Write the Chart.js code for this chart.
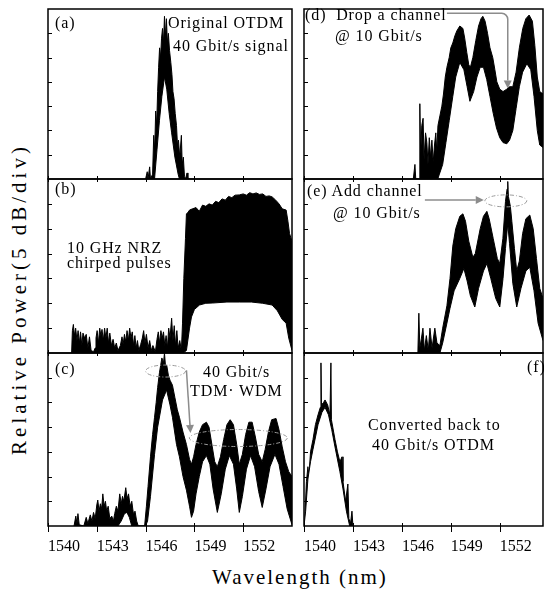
<!DOCTYPE html>
<html>
<head>
<meta charset="utf-8">
<script src="https://cdn.jsdelivr.net/npm/chart.js"></script>
<style>
  body { margin: 0; background: #fff; }
  #fig { position: relative; width: 544px; height: 592px; overflow: hidden; font-family: "Liberation Serif", "Times New Roman", serif; color: #000; }
  #fig canvas { position: absolute; }
  .t { position: absolute; font-size: 16px; line-height: 1; letter-spacing: 0.9px; white-space: pre; }
  .ax { position: absolute; font-size: 21px; line-height: 1; letter-spacing: 2px; white-space: pre; }
  #ytitle { left: -146px; top: 287px; width: 330px; height: 24px; line-height: 24px; text-align: center; letter-spacing: 4px; transform: rotate(-90deg); }
</style>
</head>
<body>
<div id="fig">
  <canvas id="ca" width="252" height="178" style="left:44px;top:5px"></canvas>
  <canvas id="cb" width="252" height="182" style="left:44px;top:175px"></canvas>
  <canvas id="cc" width="252" height="211" style="left:44px;top:349px"></canvas>
  <canvas id="cd" width="244" height="178" style="left:300px;top:5px"></canvas>
  <canvas id="ce" width="244" height="182" style="left:300px;top:175px"></canvas>
  <canvas id="cf" width="244" height="211" style="left:300px;top:349px"></canvas>

  <div class="t" style="left:55px;top:15px">(a)</div>
  <div class="t" style="left:168px;top:15px">Original OTDM</div>
  <div class="t" style="left:173px;top:38px">40 Gbit/s signal</div>
  <div class="t" style="left:55px;top:181px">(b)</div>
  <div class="t" style="left:67px;top:240px">10 GHz NRZ</div>
  <div class="t" style="left:67px;top:255px">chirped pulses</div>
  <div class="t" style="left:55px;top:361px">(c)</div>
  <div class="t" style="left:203px;top:364px">40 Gbit/s</div>
  <div class="t" style="left:190px;top:383px">TDM· WDM</div>
  <div class="t" style="left:305px;top:7px">(d)  Drop a channel</div>
  <div class="t" style="left:335px;top:28px">@ 10 Gbit/s</div>
  <div class="t" style="left:307px;top:183px">(e) Add channel</div>
  <div class="t" style="left:333px;top:205px">@ 10 Gbit/s</div>
  <div class="t" style="left:527px;top:359px">(f)</div>
  <div class="t" style="left:368px;top:417px">Converted back to</div>
  <div class="t" style="left:372px;top:437px">40 Gbit/s OTDM</div>

  <div class="ax" style="left:212px;top:567px">Wavelength (nm)</div>
  <div class="ax" id="ytitle">Relative Power(5 dB/div)</div>
</div>

<script>
// tick positions (nm and 5 dB divisions)
const xTicks = [1540, 1543, 1546, 1549, 1552];
const yTicks = [1, 2, 3, 4, 5, 6];

// each spectrum: upper and lower envelope of the comb, [wavelength nm, divisions]
const aTop = [[1546.0,0],[1546.1,0.3],[1546.15,0],[1546.25,0.5],[1546.3,0],[1546.43,0.2],[1546.5,1.8],[1546.56,1.2],[1546.62,2.8],[1546.68,2.2],[1546.74,3.6],[1546.8,4.6],[1546.86,5.4],[1546.92,5.0],[1546.98,5.8],[1547.04,6.2],[1547.1,5.6],[1547.16,6.7],[1547.22,5.9],[1547.28,6.6],[1547.34,5.6],[1547.4,6.0],[1547.47,5.3],[1547.55,4.8],[1547.62,4.3],[1547.68,3.6],[1547.75,3.3],[1547.82,2.7],[1547.9,2.2],[1547.96,1.4],[1548.02,1.6],[1548.1,0.9],[1548.2,1.8],[1548.25,0.6],[1548.32,0.9],[1548.39,0.1],[1548.45,0],[1548.55,0.25],[1548.6,0],[1548.7,0]];
const aBot = [[1546.0,0],[1546.55,0],[1546.7,1.2],[1546.85,2.4],[1547.0,3.4],[1547.16,4.2],[1547.3,3.7],[1547.45,2.7],[1547.6,1.9],[1547.8,0.9],[1548.0,0.2],[1548.08,0],[1548.7,0]];

const bTop = [[1541.45,0],[1541.5,0.9],[1541.56,1.15],[1541.62,0.7],[1541.7,1.0],[1541.78,0.5],[1541.85,0.9],[1541.93,0.4],[1542.0,0.85],[1542.08,0.3],[1542.15,0.8],[1542.25,0.6],[1542.35,0.75],[1542.45,0.2],[1542.55,0.65],[1542.65,0.1],[1542.8,0.05],[1542.9,0.2],[1542.95,0.6],[1543.02,0.9],[1543.1,0.4],[1543.18,1.0],[1543.25,0.7],[1543.32,0.95],[1543.4,0.5],[1543.48,1.0],[1543.56,0.6],[1543.64,1.0],[1543.72,0.4],[1543.8,0.8],[1543.9,0.3],[1544.0,0.55],[1544.1,0.2],[1544.2,0.4],[1544.3,0.1],[1544.45,0.3],[1544.55,0.65],[1544.62,0.35],[1544.7,0.75],[1544.78,0.45],[1544.86,0.9],[1544.94,0.5],[1545.02,1.0],[1545.1,0.6],[1545.18,0.85],[1545.26,0.3],[1545.34,0.7],[1545.42,0.2],[1545.5,0.5],[1545.58,0.1],[1545.7,0.35],[1545.8,0.6],[1545.88,0.9],[1545.96,0.4],[1546.05,0.75],[1546.15,0.2],[1546.25,0.5],[1546.35,0.1],[1546.45,0.3],[1546.6,0.05],[1546.7,0.55],[1546.78,0.85],[1546.86,0.4],[1546.94,0.9],[1547.02,0.6],[1547.1,0.85],[1547.18,0.3],[1547.26,0.7],[1547.34,0.2],[1547.42,1.0],[1547.5,0.6],[1547.6,1.4],[1547.68,0.5],[1547.76,1.1],[1547.84,0.3],[1547.92,0.9],[1548.0,0.2],[1548.1,0.5],[1548.2,0.1],[1548.27,1.2],[1548.35,3.0],[1548.45,4.6],[1548.51,5.6],[1548.6,5.65],[1548.7,5.75],[1548.88,5.8],[1549.1,5.85],[1549.3,5.7],[1549.5,5.95],[1549.7,5.9],[1549.9,6.0],[1550.1,5.95],[1550.3,6.1],[1550.5,6.05],[1550.7,6.2],[1550.9,6.15],[1551.1,6.3],[1551.3,6.25],[1551.5,6.35],[1551.76,6.36],[1552.0,6.4],[1552.2,6.35],[1552.4,6.45],[1552.6,6.4],[1552.8,6.44],[1553.0,6.38],[1553.2,6.4],[1553.4,6.3],[1553.6,6.32],[1553.78,6.28],[1554.0,6.15],[1554.2,6.0],[1554.4,5.8],[1554.64,5.75],[1554.75,5.3],[1554.85,4.8],[1555.0,4.5]];
const bBot = [[1548.3,0],[1548.51,0.1],[1548.7,1.0],[1548.82,1.45],[1549.0,1.75],[1549.31,1.93],[1549.7,2.0],[1550.1,2.01],[1551.0,2.05],[1551.76,2.05],[1552.5,2.05],[1553.2,2.0],[1553.78,1.93],[1554.1,1.7],[1554.4,1.35],[1554.64,1.2],[1554.8,0.6],[1555.0,0.1]];

const cTop = [[1541.6,0],[1541.71,0.4],[1541.78,0.1],[1541.84,0.5],[1541.92,0.05],[1542.2,0],[1542.35,0.35],[1542.45,0.1],[1542.6,0.45],[1542.7,0.2],[1542.8,0.55],[1542.9,0.3],[1543.0,0.85],[1543.06,1.05],[1543.14,0.6],[1543.22,0.9],[1543.3,0.7],[1543.37,1.3],[1543.45,0.8],[1543.53,1.0],[1543.61,0.6],[1543.7,0.8],[1543.8,0.3],[1543.92,0.4],[1544.02,0.2],[1544.1,0.5],[1544.2,0.8],[1544.3,0.6],[1544.41,1.3],[1544.5,0.9],[1544.58,1.2],[1544.66,1.0],[1544.78,1.55],[1544.86,1.1],[1544.95,1.3],[1545.05,0.8],[1545.15,1.0],[1545.25,0.5],[1545.35,0.6],[1545.45,0.2],[1545.55,0],[1545.94,0],[1546.05,0.8],[1546.15,1.6],[1546.3,2.8],[1546.43,3.7],[1546.55,4.4],[1546.65,5.0],[1546.74,5.6],[1546.85,6.2],[1547.0,6.8],[1547.1,6.6],[1547.16,7.0],[1547.22,6.5],[1547.3,6.5],[1547.4,6.1],[1547.5,5.9],[1547.65,5.7],[1547.8,5.2],[1547.95,4.7],[1548.08,4.4],[1548.3,3.8],[1548.51,3.3],[1548.7,2.7],[1548.82,2.5],[1548.95,2.8],[1549.1,3.3],[1549.3,3.8],[1549.5,4.1],[1549.74,4.2],[1549.9,4.0],[1550.1,3.2],[1550.25,2.6],[1550.41,2.4],[1550.6,2.8],[1550.8,3.5],[1551.0,4.1],[1551.2,4.3],[1551.4,4.1],[1551.6,3.3],[1551.76,2.5],[1551.95,2.9],[1552.15,3.7],[1552.35,4.2],[1552.55,4.2],[1552.75,3.6],[1552.95,2.9],[1553.17,2.6],[1553.35,3.1],[1553.55,3.8],[1553.75,4.3],[1554.02,4.35],[1554.2,3.9],[1554.4,3.2],[1554.6,2.6],[1554.8,2.2],[1555.0,2.0]];
const cBot = [[1544.3,0],[1544.5,0.2],[1544.7,0.5],[1544.85,0.55],[1545.0,0.35],[1545.15,0],[1546.0,0],[1546.12,0.2],[1546.3,1.2],[1546.55,2.9],[1546.74,4.0],[1547.04,5.1],[1547.29,5.5],[1547.5,4.9],[1547.65,4.4],[1547.9,3.3],[1548.08,2.8],[1548.3,2.0],[1548.51,1.45],[1548.7,0.8],[1548.82,0.35],[1548.95,0.6],[1549.1,1.3],[1549.3,2.0],[1549.5,2.6],[1549.74,2.85],[1549.95,2.5],[1550.15,1.5],[1550.41,0.55],[1550.65,1.3],[1550.9,2.3],[1551.15,2.85],[1551.4,2.5],[1551.6,1.5],[1551.76,0.55],[1551.95,1.2],[1552.2,2.3],[1552.45,2.85],[1552.7,2.4],[1552.95,1.4],[1553.17,0.75],[1553.4,1.5],[1553.65,2.4],[1553.95,2.9],[1554.2,2.5],[1554.45,1.6],[1554.7,0.7],[1555.0,0.05]];

const dTop = [[1546.7,0],[1546.8,0.6],[1546.85,0],[1547.05,0],[1547.1,3.1],[1547.15,1.0],[1547.22,2.2],[1547.3,2.5],[1547.36,0.8],[1547.45,1.9],[1547.53,1.5],[1547.6,0.6],[1547.68,1.7],[1547.76,0.9],[1547.84,1.6],[1547.92,0.7],[1548.0,1.4],[1548.08,1.9],[1548.14,1.1],[1548.21,2.2],[1548.33,2.6],[1548.45,3.0],[1548.55,3.5],[1548.66,4.2],[1548.76,4.6],[1548.9,5.0],[1549.0,5.4],[1549.12,5.6],[1549.25,5.9],[1549.37,6.1],[1549.55,6.3],[1549.74,6.2],[1549.85,5.8],[1549.98,5.2],[1550.1,4.7],[1550.2,4.6],[1550.35,5.0],[1550.53,5.7],[1550.7,6.3],[1550.85,6.6],[1550.96,6.7],[1551.1,6.5],[1551.25,6.0],[1551.4,5.4],[1551.57,5.0],[1551.7,4.5],[1551.82,4.0],[1552.0,3.7],[1552.2,3.6],[1552.43,3.7],[1552.6,3.8],[1552.8,3.8],[1553.0,4.4],[1553.2,5.4],[1553.41,6.2],[1553.6,6.6],[1553.8,6.75],[1554.0,6.5],[1554.15,5.5],[1554.3,4.2],[1554.45,3.6],[1554.65,3.5]];
const dBot = [[1548.2,0],[1548.3,0.2],[1548.5,0.6],[1548.7,1.5],[1548.9,2.4],[1549.12,3.4],[1549.3,4.2],[1549.55,4.8],[1549.8,4.5],[1550.0,3.8],[1550.17,3.2],[1550.4,3.6],[1550.6,4.2],[1550.8,4.6],[1551.0,4.6],[1551.2,4.1],[1551.4,3.4],[1551.6,2.7],[1551.8,2.1],[1552.0,1.7],[1552.2,1.5],[1552.43,1.45],[1552.6,1.6],[1552.8,2.0],[1553.0,2.9],[1553.2,3.8],[1553.4,4.4],[1553.66,4.75],[1553.9,4.5],[1554.1,3.4],[1554.3,2.0],[1554.45,1.4],[1554.65,1.3]];

const eTop = [[1546.98,0],[1547.04,1.6],[1547.1,0.2],[1547.2,0.6],[1547.29,1.0],[1547.38,0.1],[1547.5,0.7],[1547.62,0.1],[1547.72,1.0],[1547.85,0.2],[1548.02,1.0],[1548.15,0.4],[1548.33,0.3],[1548.5,1.0],[1548.76,1.9],[1548.95,3.0],[1549.12,4.3],[1549.3,5.0],[1549.55,5.5],[1549.74,5.6],[1549.9,5.3],[1550.1,4.5],[1550.35,3.85],[1550.5,4.0],[1550.8,5.0],[1551.0,5.5],[1551.21,5.7],[1551.35,5.4],[1551.6,4.6],[1551.85,3.8],[1552.0,3.6],[1552.19,4.6],[1552.35,6.1],[1552.45,6.6],[1552.49,6.9],[1552.53,6.3],[1552.65,5.9],[1552.74,5.3],[1552.9,4.2],[1553.04,3.3],[1553.2,3.7],[1553.4,4.8],[1553.6,5.4],[1553.84,5.55],[1554.05,5.0],[1554.25,3.8],[1554.45,2.6],[1554.65,2.2]];
const eBot = [[1548.33,0],[1548.5,0.4],[1548.76,1.2],[1548.95,1.8],[1549.2,2.5],[1549.55,3.0],[1549.8,3.4],[1550.0,2.9],[1550.2,2.3],[1550.47,1.85],[1550.7,2.6],[1551.0,3.3],[1551.21,3.6],[1551.45,3.0],[1551.75,2.2],[1552.0,1.85],[1552.2,3.0],[1552.35,4.2],[1552.49,5.2],[1552.6,4.4],[1552.8,2.8],[1553.04,1.85],[1553.3,2.6],[1553.6,3.3],[1553.84,3.45],[1554.1,2.5],[1554.35,1.2],[1554.65,0.5]];

const fTop = [[1540.0,0],[1540.06,0.5],[1540.15,1.8],[1540.24,2.4],[1540.3,2.0],[1540.4,3.0],[1540.55,3.5],[1540.7,4.1],[1540.86,4.5],[1541.0,4.8],[1541.04,6.6],[1541.07,4.9],[1541.2,5.0],[1541.29,5.1],[1541.45,4.9],[1541.59,4.5],[1541.65,6.6],[1541.68,4.3],[1541.9,3.5],[1542.05,3.0],[1542.2,2.6],[1542.33,2.8],[1542.39,1.8],[1542.55,1.0],[1542.69,1.7],[1542.75,0.3],[1542.85,0.1],[1542.94,0.6],[1543.0,0]];
const fBot = [[1540.0,0],[1540.1,0.6],[1540.24,1.9],[1540.4,2.6],[1540.55,3.1],[1540.86,4.1],[1541.1,4.6],[1541.29,4.8],[1541.5,4.5],[1541.7,3.9],[1541.9,3.2],[1542.2,2.2],[1542.39,1.5],[1542.6,0.6],[1542.8,0],[1543.0,0]];

const toXY = arr => arr.map(p => ({x: p[0], y: p[1]}));

// frame, inward ticks and the grey arrows / dashed ellipses
const panelDeco = {
  id: 'panelDeco',
  afterDatasetsDraw(chart, args, o) {
    const {ctx, chartArea: a, scales: {x, y}} = chart;
    ctx.save();
    ctx.strokeStyle = '#000';
    ctx.lineWidth = 1.5;
    ctx.strokeRect(a.left, a.top, a.right - a.left, a.bottom - a.top);
    ctx.lineWidth = 1;
    ctx.beginPath();
    yTicks.forEach(v => {
      const py = Math.round(y.getPixelForValue(v)) + 0.5;
      ctx.moveTo(a.left, py); ctx.lineTo(a.left + 4, py);
    });
    xTicks.forEach(v => {
      const px = Math.round(x.getPixelForValue(v)) + 0.5;
      ctx.moveTo(px, a.bottom - 3); ctx.lineTo(px, a.bottom + (o.down || 3));
    });
    ctx.stroke();

    (o.ellipses || []).forEach(e => {
      ctx.beginPath();
      ctx.setLineDash([4, 2, 1, 2]);
      ctx.strokeStyle = '#9a9a9a';
      ctx.lineWidth = 1;
      ctx.ellipse(x.getPixelForValue(e.x), y.getPixelForValue(e.y), e.rx, e.ry, 0, 0, Math.PI * 2);
      ctx.stroke();
    });
    ctx.setLineDash([]);

    (o.arrows || []).forEach(ar => {
      const pts = ar.pts.map(p => ({x: x.getPixelForValue(p[0]), y: y.getPixelForValue(p[1])}));
      const n = pts.length;
      const tip = pts[n - 1], prev = pts[n - 2];
      const len = Math.hypot(tip.x - prev.x, tip.y - prev.y);
      const ux = (tip.x - prev.x) / len, uy = (tip.y - prev.y) / len;
      const bx = tip.x - ux * 8, by = tip.y - uy * 8;
      ctx.strokeStyle = '#8c8c8c';
      ctx.fillStyle = '#8c8c8c';
      ctx.lineWidth = 1.5;
      ctx.beginPath();
      ctx.moveTo(pts[0].x, pts[0].y);
      for (let i = 1; i < n - 1; i++) {
        ctx.arcTo(pts[i].x, pts[i].y, pts[i + 1].x, pts[i + 1].y, ar.r || 0);
      }
      ctx.lineTo(bx, by);
      ctx.stroke();
      ctx.beginPath();
      ctx.moveTo(tip.x, tip.y);
      ctx.lineTo(bx - uy * 4, by + ux * 4);
      ctx.lineTo(bx + uy * 4, by - ux * 4);
      ctx.closePath();
      ctx.fill();
    });
    ctx.restore();
  }
};

function panel(id, top, bot, xMax, withLabels, deco) {
  const right = /c[def]/.test(id) ? 1 : 4;
  const xScale = {
    type: 'linear', min: 1540, max: xMax,
    display: withLabels,
    grid: {display: false, drawTicks: false},
    border: {display: false},
    afterBuildTicks: s => { s.ticks = xTicks.map(v => ({value: v})); },
    ticks: {align: 'start', padding: 11, color: '#000', maxRotation: 0, autoSkip: false,
            callback: v => String(v),
            font: {family: '"Liberation Serif", "Times New Roman", serif', size: 16}}
  };
  if (withLabels) {
    // fixed axis band under the plot, no extra side padding for the labels
    xScale.afterFit = s => { s.height = 34; s.paddingLeft = 0; s.paddingRight = 0; };
  }
  return new Chart(document.getElementById(id), {
    type: 'line',
    data: {
      datasets: [
        {data: toXY(top), order: 2, borderColor: '#000', borderWidth: 1, backgroundColor: '#000', fill: 'origin', pointRadius: 0, tension: 0},
        {data: toXY(bot), order: 1, borderColor: '#000', borderWidth: 1, backgroundColor: '#fff', fill: 'origin', pointRadius: 0, tension: 0}
      ]
    },
    options: {
      responsive: false,
      animation: false,
      events: [],
      layout: {padding: {left: 4, top: 4, right: right, bottom: withLabels ? 0 : 4}},
      plugins: {legend: {display: false}, tooltip: {enabled: false}, panelDeco: deco},
      scales: {
        x: xScale,
        y: {type: 'linear', min: 0, max: 7, display: false}
      }
    },
    plugins: [panelDeco]
  });
}

panel('ca', aTop, aBot, 1555, false, {});
panel('cb', bTop, bBot, 1555, false, {});
panel('cc', cTop, cBot, 1555, true, {
  down: 6,
  ellipses: [{x: 1547.23, y: 6.27, rx: 20, ry: 6}, {x: 1551.70, y: 3.56, rx: 49, ry: 8.5}],
  arrows: [{pts: [[1548.51, 6.3], [1548.76, 3.76]]}]
});
panel('cd', dTop, dBot, 1554.65, false, {
  arrows: [{pts: [[1548.76, 6.82], [1552.49, 6.82], [1552.49, 3.73]], r: 6}]
});
panel('ce', eTop, eBot, 1554.65, false, {
  ellipses: [{x: 1552.37, y: 6.12, rx: 21, ry: 6}],
  arrows: [{pts: [[1547.41, 6.16], [1551.02, 6.16]]}]
});
panel('cf', fTop, fBot, 1554.65, true, {down: 6});
</script>
</body>
</html>
